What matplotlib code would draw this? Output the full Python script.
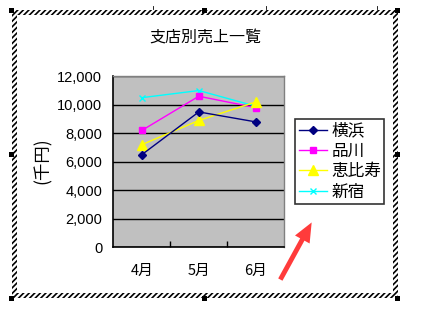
import matplotlib
matplotlib.use("Agg")
import matplotlib.pyplot as plt
from matplotlib.patches import Rectangle

plt.rcParams['font.family'] = ['Noto Sans CJK JP', 'DejaVu Sans']
plt.rcParams['hatch.linewidth'] = 1.2

# data (thousand yen)
months = ['4月', '5月', '6月']
yokohama = [6500, 9500, 8800]
shinagawa = [8200, 10600, 9800]
ebisu = [7200, 8900, 10200]
shinjuku = [10500, 11000, 9900]
yticks = [0, 2000, 4000, 6000, 8000, 10000, 12000]

W, H = 431, 314
fig = plt.figure(figsize=(W / 100, H / 100), dpi=100)


def px(x, y, w, h):
    # pixel box (top-left origin) -> figure fraction
    return [x / W, 1 - (y + h) / H, w / W, h / H]


# hatched selection frame of the chart object
bg = fig.add_axes([0, 0, 1, 1])
bg.set_xlim(0, W)
bg.set_ylim(H, 0)
bg.axis('off')
bg.add_patch(Rectangle((12, 10), 386, 288, facecolor='white', edgecolor='black',
                       hatch='//////', linewidth=0))
bg.add_patch(Rectangle((17, 15), 376, 278, facecolor='white', linewidth=0))
for hx, hy in [(12, 10), (205, 10), (398, 10), (12, 154), (398, 154),
               (12, 298), (205, 298), (398, 298)]:
    bg.add_patch(Rectangle((hx - 2.5, hy - 2.5), 5, 5, facecolor='black', linewidth=0))
for tx in [153, 266, 377]:
    bg.plot([tx, tx], [6, 9], color='black', lw=0.6)

fig.text(205 / W, 1 - 38 / H, '支店別売上一覧', ha='center', va='center', fontsize=11.5)

ax = fig.add_axes(px(113.3, 76.3, 171, 171))
ax.set_facecolor('#c0c0c0')
x = range(len(months))
ax.plot(x, shinjuku, color='cyan', lw=1, marker='x', ms=4, mew=1, label='新宿', zorder=3)
ax.plot(x, shinagawa, color='magenta', lw=1, marker='s', ms=5, label='品川', zorder=4)
ax.plot(x, ebisu, color='yellow', lw=1, marker='^', ms=6.5, label='恵比寿', zorder=4)
ax.plot(x, yokohama, color='#000080', lw=1, marker='D', ms=4.5, label='横浜', zorder=5)

ax.set_xlim(-0.5, 2.5)
ax.set_ylim(0, 12000)
ax.set_yticks(yticks)
ax.set_yticklabels([f'{v:,}' for v in yticks], family=['Liberation Sans', 'DejaVu Sans'],
                   fontsize=10.5)
ax.yaxis.grid(True, color='black', lw=1)
ax.set_axisbelow(True)
ax.set_xticks([0.5, 1.5])
ax.set_xticks(list(x), minor=True)
ax.set_xticklabels(['', ''])
ax.set_xticklabels(months, minor=True, fontsize=10.5)
ax.tick_params(axis='x', which='minor', length=0, pad=12)
ax.tick_params(axis='x', which='major', direction='in', length=4, width=1)
ax.tick_params(axis='y', length=0, pad=8)
for s in ['left', 'bottom']:
    ax.spines[s].set_color('black')
    ax.spines[s].set_linewidth(1.2)
for s in ['top', 'right']:
    ax.spines[s].set_color('#808080')
    ax.spines[s].set_linewidth(1)

fig.text(43 / W, 1 - 161 / H, '(千円)', rotation=90, ha='center', va='center', fontsize=12.5)

handles, labels = ax.get_legend_handles_labels()
order = [3, 1, 2, 0]
leg = fig.legend([handles[i] for i in order], [labels[i] for i in order],
                 loc='upper left', bbox_to_anchor=(295.3 / W, 1 - 119.3 / H),
                 frameon=True, fancybox=False, edgecolor='black', fontsize=12,
                 handlelength=1.7, handletextpad=0.25, labelspacing=0.2,
                 borderpad=0.2, borderaxespad=0)
leg.get_frame().set_linewidth(1.2)

# red arrow annotation
bg.annotate('', xy=(313, 220), xytext=(279, 282),
            arrowprops=dict(arrowstyle='simple,head_length=1.4,head_width=1.2,tail_width=0.35',
                            color='#ff3b3b', lw=0))

fig.savefig('out.png', dpi=100)
